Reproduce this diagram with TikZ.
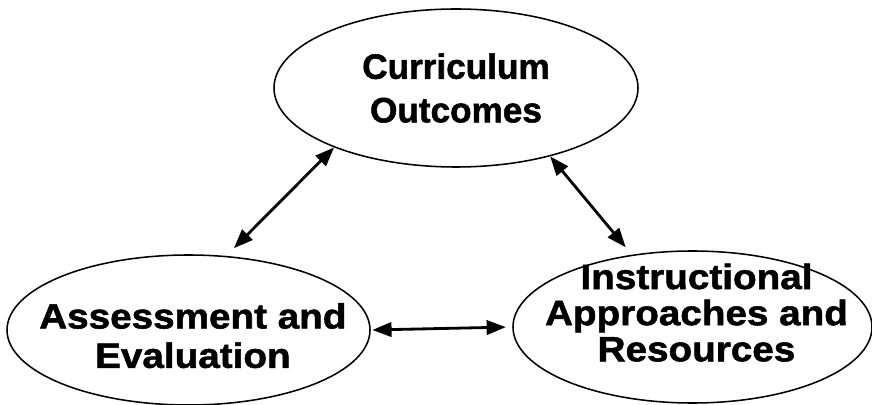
\documentclass[tikz,border=0pt]{standalone}
\usepackage{fontspec}
\setmainfont[FakeBold=1.5]{Liberation Sans}
\newfontfamily\widesf[FakeStretch=1.1,FakeBold=1.5]{Liberation Sans}
\usetikzlibrary{arrows.meta,shapes.geometric}

\begin{document}
\begin{tikzpicture}[
        oval/.style={draw, ellipse, line width=1.1pt, inner sep=0pt},
        words/.style={align=center, font=\bfseries\fontsize{25}{31}\selectfont},
        widewords/.style={align=center, font=\widesf\bfseries\fontsize{25}{28}\selectfont},
        link/.style={{Triangle[length=0.48cm,width=0.36cm]}-{Triangle[length=0.48cm,width=0.36cm]}, line width=2pt}
    ]
        \fill[white] (0,0) rectangle (21.8,10.1);
        \useasboundingbox (0,0) rectangle (21.8,10.1);
        \node[oval, minimum width=9.1cm, minimum height=3.95cm] (cur) at (11.4,7.9) {};
        \node[oval, minimum width=9.075cm, minimum height=3.75cm] (ass) at (4.7125,1.85) {};
        \node[oval, minimum width=8.975cm, minimum height=3.8cm] (ins) at (17.3125,1.925) {};
        \node[words] (curtext) at (cur) {Curriculum\\Outcomes};
        \node[widewords] (asstext) at ([shift={(0.11,-0.14)}]ass.center) {Assessment and\\Evaluation};
        \node[widewords, font=\widesf\bfseries\fontsize{25}{25.7}\selectfont] (instext) at ([shift={(0.1,0.36)}]ins.center) {Instructional\\Approaches and\\Resources};
        \draw[link, shorten <=0.27cm] (ass.63) -- (cur.206);
        \draw[link, shorten >=0.24cm] (cur.324) -- (ins.130);
        \draw[link, shorten <=0.04cm, shorten >=0.16cm] (ass.east) -- (ins.west);
    \end{tikzpicture}
\end{document}
